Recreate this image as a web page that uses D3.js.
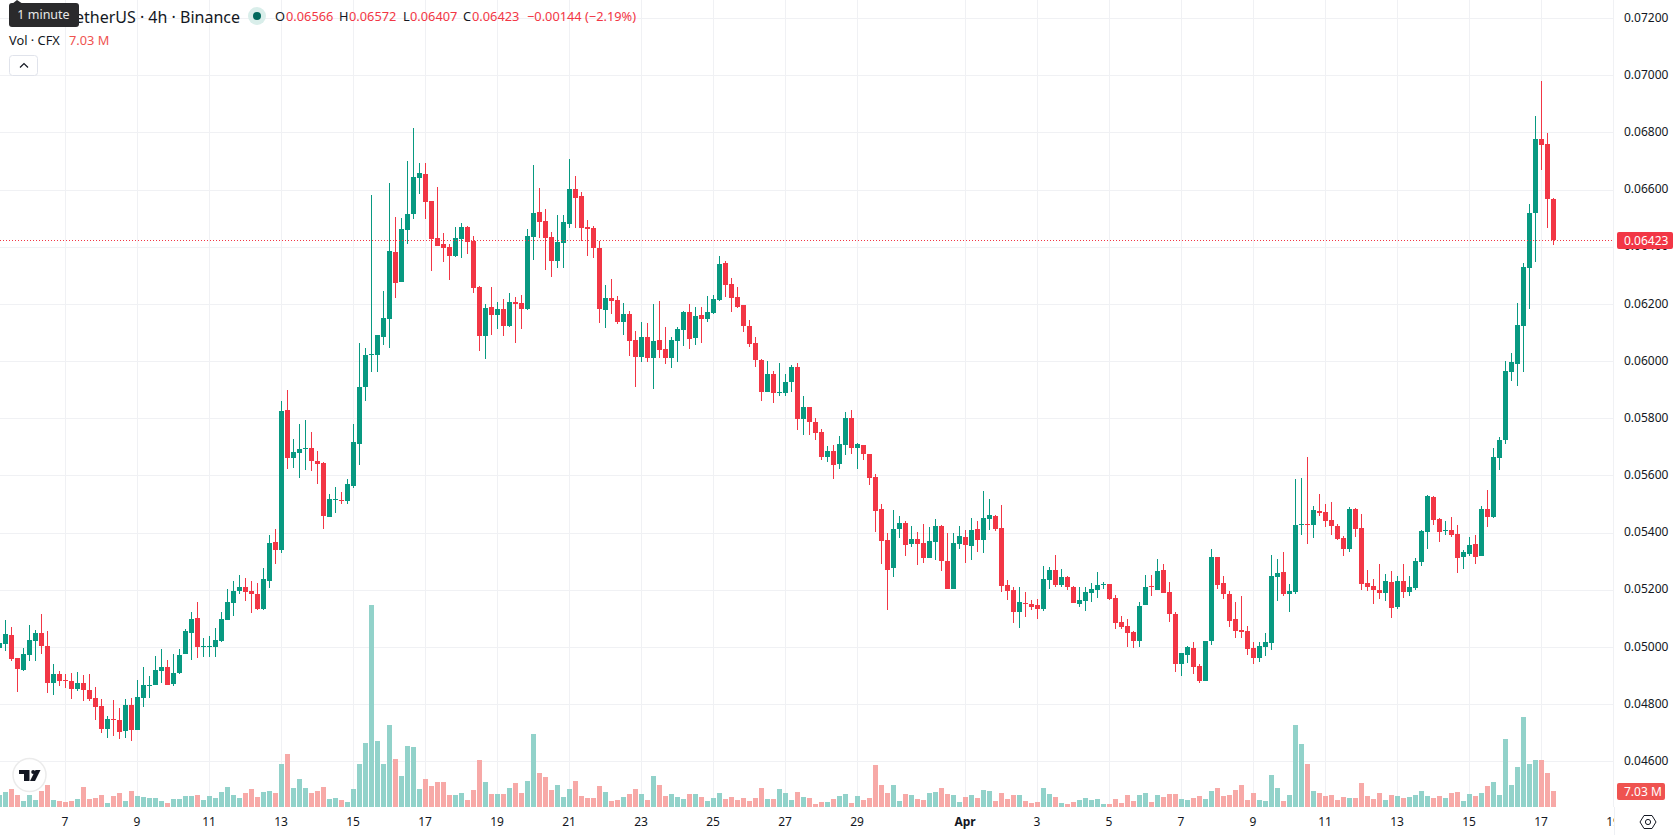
<!DOCTYPE html>
<html>
<head>
<meta charset="utf-8">
<title>CFX / TetherUS 4h</title>
<script src="https://cdn.jsdelivr.net/npm/d3@7/dist/d3.min.js"></script>
<style>
  html, body { margin: 0; padding: 0; background: #fff; overflow: hidden; }
  svg { display: block; font-family: "Noto Sans", sans-serif; }
  .axis path, .axis line { display: none; }
  .axis text { fill: #131722; font-size: 12px; font-family: "Noto Sans", sans-serif; }
</style>
</head>
<body>
<div id="chart"></div>
<script>
// Prices are listed in units of 0.00001 USDT, volumes in millions of CFX.
const priceUnit = 0.00001;

const opens = [4996,5010,5042,4961,4919,4972,5021,5049,5003,4874,
4905,4884,4881,4853,4874,4849,4821,4793,4713,4748,
4744,4706,4797,4709,4821,4863,4867,4916,4930,4870,
4909,4975,5049,5101,5000,5000,5000,5021,5094,5154,
5196,5210,5196,5185,5133,5231,5367,5339,5829,5661,
5678,5692,5696,5650,5643,5454,5514,5514,5510,5563,
5710,5909,6021,6021,6084,6147,6381,6276,6458,6514,
6640,6654,6560,6430,6409,6399,6367,6427,6469,6420,
6259,6087,6189,6161,6182,6122,6206,6203,6182,6434,
6521,6490,6434,6350,6413,6479,6602,6577,6469,6465,
6395,6178,6220,6213,6136,6164,6074,6014,6084,6011,
6074,6042,6011,6070,6109,6172,6081,6161,6147,6168,
6213,6343,6269,6224,6196,6122,6063,6004,5892,5955,
5888,5888,5927,5979,5797,5839,5787,5752,5664,5685,
5640,5706,5801,5696,5706,5675,5594,5482,5374,5276,
5413,5434,5360,5378,5364,5311,5367,5423,5301,5203,
5360,5385,5353,5413,5374,5447,5458,5416,5217,5199,
5122,5154,5150,5147,5133,5234,5269,5217,5245,5210,
5150,5161,5189,5199,5218,5220,5171,5087,5073,5052,
5021,5147,5213,5199,5269,5192,5115,4940,4972,4996,
4933,4881,5021,5315,5224,5185,5098,5059,5056,4996,
4961,5000,5014,5245,5262,5185,5192,5426,5430,5426,
5475,5472,5444,5423,5381,5343,5482,5416,5224,5213,
5199,5189,5227,5140,5231,5192,5206,5297,5402,5524,
5447,5405,5409,5395,5315,5325,5360,5318,5482,5454,
5661,5724,5962,5990,6122,6325,6518,6777,6759,6566];

const highs = [5013,5094,5070,4961,4996,5077,5059,5115,5056,4940,
4916,4905,4909,4912,4902,4905,4860,4818,4758,4814,
4786,4818,4821,4884,4930,4898,4968,4993,4954,4975,
4993,5063,5122,5157,5031,5038,5066,5122,5203,5231,
5252,5241,5231,5224,5276,5392,5412,5860,5899,5727,
5780,5794,5752,5685,5647,5535,5559,5542,5587,5780,
6063,6045,6581,6091,6245,6623,6504,6500,6700,6815,
6693,6693,6560,6609,6448,6409,6469,6483,6472,6437,
6262,6199,6259,6206,6217,6238,6224,6231,6462,6686,
6605,6532,6451,6511,6511,6707,6647,6591,6493,6472,
6420,6266,6287,6227,6203,6175,6105,6136,6133,6199,
6210,6119,6084,6119,6175,6199,6189,6189,6227,6231,
6367,6350,6290,6259,6196,6143,6084,6007,6000,5965,
5993,5955,5986,5993,5878,5839,5801,5762,5703,5706,
5738,5822,5829,5713,5706,5675,5605,5500,5399,5479,
5458,5441,5423,5402,5430,5420,5447,5427,5399,5399,
5423,5409,5451,5441,5545,5517,5462,5496,5234,5210,
5210,5192,5164,5168,5283,5280,5322,5273,5248,5213,
5210,5210,5224,5262,5227,5220,5182,5108,5098,5056,
5157,5252,5252,5308,5290,5227,5122,4979,5003,5017,
4940,5021,5343,5315,5248,5196,5157,5178,5073,5017,
5017,5049,5322,5308,5332,5220,5587,5591,5664,5493,
5535,5500,5507,5430,5388,5489,5486,5465,5269,5238,
5290,5255,5266,5248,5290,5248,5311,5409,5531,5528,
5451,5440,5454,5427,5339,5385,5392,5493,5549,5696,
5734,6000,6028,6203,6343,6549,6857,6979,6798,6572];

const lows = [4996,4986,4951,4842,4916,4951,4951,4975,4839,4832,
4863,4856,4818,4846,4811,4811,4744,4699,4681,4688,
4678,4681,4671,4709,4790,4821,4867,4874,4867,4863,
4905,4975,4954,4961,4965,4965,4965,5017,5094,5108,
5185,5161,5119,5129,5129,5206,5290,5329,5622,5626,
5591,5619,5615,5570,5412,5454,5468,5500,5500,5556,
5636,5860,5962,5962,6056,6045,6220,6276,6409,6497,
6584,6497,6315,6402,6346,6283,6364,6360,6374,6238,
6035,6007,6091,6112,6087,6119,6063,6112,6178,6353,
6430,6318,6294,6325,6325,6465,6465,6420,6367,6360,
6133,6115,6164,6129,6091,6017,5909,5997,5997,5902,
6011,5990,5976,5997,6053,6042,6056,6063,6136,6164,
6210,6224,6172,6185,6102,6049,5979,5860,5892,5853,
5878,5878,5892,5759,5741,5741,5724,5654,5647,5587,
5622,5671,5675,5622,5654,5566,5402,5290,5129,5245,
5381,5318,5350,5287,5294,5311,5304,5266,5203,5203,
5343,5294,5304,5332,5329,5409,5405,5192,5164,5084,
5066,5105,5129,5098,5126,5203,5210,5210,5199,5154,
5140,5126,5157,5171,5203,5164,5063,5063,5000,4996,
5000,5147,5178,5199,5189,5087,4912,4898,4944,4905,
4874,4881,5007,5203,5168,5070,5031,5031,4972,4940,
4947,4968,4989,5161,5178,5122,5185,5391,5360,5381,
5458,5419,5391,5374,5318,5332,5384,5199,5196,5150,
5168,5161,5101,5133,5171,5178,5199,5283,5343,5426,
5367,5392,5385,5259,5273,5318,5290,5318,5420,5451,
5619,5710,5930,5913,5962,6182,6346,6668,6465,6407];

const closes = [5013,5045,4958,4923,4975,5024,5049,5003,4874,4905,
4881,4881,4853,4874,4849,4818,4790,4713,4748,4744,
4702,4797,4709,4825,4867,4867,4919,4930,4867,4909,
4972,5056,5098,5000,5003,5003,5024,5098,5157,5196,
5210,5192,5185,5133,5238,5364,5339,5825,5661,5682,
5692,5696,5650,5640,5458,5517,5517,5510,5570,5717,
5909,6021,6024,6091,6150,6385,6273,6462,6514,6644,
6658,6556,6427,6402,6395,6367,6430,6469,6416,6255,
6087,6185,6161,6182,6122,6206,6199,6182,6437,6518,
6486,6430,6350,6416,6486,6602,6570,6465,6462,6395,
6182,6220,6210,6136,6164,6070,6014,6084,6011,6070,
6039,6011,6074,6112,6172,6077,6158,6147,6172,6217,
6339,6266,6220,6189,6122,6060,6004,5892,5955,5888,
5892,5927,5979,5797,5839,5787,5748,5664,5685,5636,
5710,5801,5696,5710,5675,5591,5475,5371,5269,5413,
5434,5357,5378,5360,5311,5371,5423,5301,5203,5364,
5388,5357,5409,5374,5451,5462,5413,5213,5196,5122,
5157,5150,5140,5133,5238,5269,5217,5245,5210,5154,
5164,5192,5203,5217,5221,5168,5084,5070,5049,5021,
5143,5210,5210,5266,5189,5115,4940,4979,5000,4930,
4881,5021,5315,5217,5185,5091,5056,5052,4993,4961,
5003,5017,5248,5259,5185,5196,5426,5430,5426,5479,
5468,5440,5423,5377,5343,5482,5412,5220,5210,5199,
5189,5231,5136,5231,5192,5210,5300,5405,5528,5444,
5402,5409,5392,5311,5332,5357,5315,5482,5454,5664,
5724,5965,5997,6126,6329,6518,6777,6756,6566,6423];

const volumes = [5.27,6.59,7.91,5.27,2.64,5.27,3.08,7.03,9.67,3.08,
2.64,2.2,2.64,3.52,8.79,3.52,3.95,5.27,1.76,4.83,
6.15,2.64,7.03,4.83,4.39,3.95,3.95,2.64,1.76,3.52,
3.52,4.83,4.83,5.27,3.08,4.83,3.95,6.59,8.79,5.27,
3.95,6.15,7.91,4.39,6.59,7.03,6.15,18.9,23.29,8.35,
12.3,8.35,6.15,7.03,8.79,3.52,3.95,3.08,2.2,7.91,
18.9,28.12,88.8,29.0,18.9,36.03,21.09,13.62,26.8,26.36,
7.91,12.3,9.23,10.99,10.99,5.27,5.27,6.15,3.08,7.47,
20.65,10.99,5.71,5.71,5.71,8.35,10.55,6.15,11.42,32.08,
14.94,13.18,7.47,9.67,4.39,7.91,11.42,4.83,3.95,3.95,
9.23,6.59,2.64,3.08,4.39,5.71,7.91,5.71,3.08,13.62,
9.67,4.83,5.71,4.39,3.52,5.71,5.71,4.39,2.64,3.95,
6.15,3.52,4.39,3.08,3.95,2.64,3.95,8.35,3.52,3.52,
7.91,6.15,3.08,6.59,4.39,3.95,1.32,2.2,2.2,3.52,
4.83,5.71,1.76,4.83,3.08,3.95,18.45,9.67,6.15,9.67,
2.64,5.71,5.27,3.52,3.08,6.15,6.59,8.35,5.71,5.27,
2.2,4.39,5.27,3.95,7.47,7.03,2.64,6.15,3.52,5.27,
5.27,2.64,1.76,2.2,8.35,5.71,4.39,1.76,1.32,2.2,
3.08,3.95,3.08,3.52,1.32,1.32,3.52,1.76,5.27,2.64,
5.27,6.15,2.2,5.27,4.39,5.71,5.71,3.52,3.08,3.95,
4.83,3.52,7.03,8.35,4.83,5.27,7.47,9.67,3.08,6.15,
3.08,2.64,14.06,8.35,2.64,5.27,36.03,27.68,18.9,7.03,
6.15,4.83,5.27,3.08,4.39,3.95,3.95,10.55,4.83,3.52,
6.15,3.08,5.27,4.83,3.95,4.39,5.27,7.03,4.83,3.95,
4.83,3.95,6.15,6.59,2.64,5.71,4.83,6.15,9.23,10.99,
5.27,29.88,9.67,17.58,39.55,18.9,20.65,20.65,14.94,7.03];

const priceTicks = [0.046,0.048,0.05,0.052,0.054,0.056,0.058,0.06,0.062,0.064,0.066,0.068,0.07,0.072];
const dayLabels = ["7","9","11","13","15","17","19","21","23","25","27","29","Apr","3","5","7","9","11","13","15","17","19"];
const dayCandles = [11,23,35,47,59,71,83,95,107,119,131,143,161,173,185,197,209,221,233,245,257,269];

const lastQuote = {open: 0.06566, high: 0.06572, low: 0.06407, close: 0.06423, change: "−0.00144 (−2.19%)", volume: "7.03 M"};

const W = 1678, H = 835;
const paneRight = 1614, paneBottom = 807;
const UP = "#089981", DOWN = "#F23645";
const UP_VOL = "#92d2ca", DOWN_VOL = "#f7a9a7";
const GRID = "#f0f1f4", INK = "#131722";

const candles = opens.map((o, i) => ({
  i, open: o * priceUnit, high: highs[i] * priceUnit, low: lows[i] * priceUnit,
  close: closes[i] * priceUnit, volume: volumes[i], up: closes[i] >= o
}));

const x = d3.scaleLinear().domain([0, 259]).range([-0.5, 1553.5]);
const y = d3.scaleLinear().domain([0.046, 0.068]).range([761.4, 132.4]);
const yVol = d3.scaleLinear().domain([0, d3.max(volumes)]).range([paneBottom, 605]);

const svg = d3.select("#chart").append("svg").attr("width", W).attr("height", H);

const defs = svg.append("defs");
defs.append("clipPath").attr("id", "pane").append("rect").attr("width", paneRight).attr("height", paneBottom);
defs.append("clipPath").attr("id", "time").append("rect").attr("y", paneBottom).attr("width", paneRight + 1).attr("height", H - paneBottom);

const crisp = svg.append("g").attr("shape-rendering", "crispEdges");

// Grid
const grid = crisp.append("g");
grid.selectAll(".gy").data(priceTicks).join("line")
  .attr("x1", 0).attr("x2", paneRight)
  .attr("y1", d => Math.round(y(d)) + 0.5).attr("y2", d => Math.round(y(d)) + 0.5)
  .attr("stroke", GRID);
grid.selectAll(".gx").data(dayCandles).join("line")
  .attr("x1", d => x(d)).attr("x2", d => x(d))
  .attr("y1", 0).attr("y2", paneBottom)
  .attr("stroke", GRID);

const pane = crisp.append("g").attr("clip-path", "url(#pane)");

// Volume histogram
pane.append("g").selectAll("rect").data(candles).join("rect")
  .attr("x", d => x(d.i) - 2.5).attr("width", 5)
  .attr("y", d => Math.round(yVol(d.volume)))
  .attr("height", d => paneBottom - Math.round(yVol(d.volume)))
  .attr("fill", d => d.up ? UP_VOL : DOWN_VOL);

// Wicks
pane.append("g").selectAll("rect").data(candles).join("rect")
  .attr("x", d => x(d.i) - 0.5).attr("width", 1)
  .attr("y", d => Math.round(y(d.high)))
  .attr("height", d => Math.max(1, Math.round(y(d.low)) - Math.round(y(d.high))))
  .attr("fill", d => d.up ? UP : DOWN);

// Candle bodies
pane.append("g").selectAll("rect").data(candles).join("rect")
  .attr("x", d => x(d.i) - 2.5).attr("width", 5)
  .attr("y", d => Math.round(y(Math.max(d.open, d.close))))
  .attr("height", d => Math.max(1, Math.round(y(Math.min(d.open, d.close))) - Math.round(y(Math.max(d.open, d.close)))))
  .attr("fill", d => d.up ? UP : DOWN);

// Last price line
svg.append("line")
  .attr("x1", 0).attr("x2", paneRight)
  .attr("y1", Math.round(y(lastQuote.close)) + 0.5).attr("y2", Math.round(y(lastQuote.close)) + 0.5)
  .attr("stroke", DOWN).attr("stroke-dasharray", "1,2");

// Price axis
svg.append("g").attr("class", "axis").attr("transform", `translate(${paneRight + 10},-0.7)`)
  .call(d3.axisRight(y).tickValues(priceTicks).tickSize(0).tickPadding(0).tickFormat(d3.format(".5f")));

// Time axis
const timeAxis = svg.append("g").attr("clip-path", "url(#time)").append("g")
  .attr("class", "axis").attr("transform", `translate(-1,${paneBottom + 10})`)
  .call(d3.axisBottom(x).tickValues(dayCandles).tickSize(0).tickPadding(0)
    .tickFormat((d, i) => dayLabels[i]));
timeAxis.selectAll("text").attr("font-weight", (d, i) => dayLabels[i] === "Apr" ? 700 : 400);

// Last price and volume tags
const tag = (y0, x0, w, h, fill, label) => {
  svg.append("rect").attr("x", x0).attr("y", y0).attr("width", w).attr("height", h).attr("rx", 2).attr("fill", fill);
  svg.append("text").attr("x", x0 + 7).attr("y", y0 + h / 2).attr("dy", "0.35em")
    .attr("fill", "#fff").attr("font-size", 12).text(label);
};
tag(Math.round(y(lastQuote.close)) - 8, 1617, 56, 17, DOWN, d3.format(".5f")(lastQuote.close));
tag(Math.round(yVol(volumes[259])) - 8, 1617, 48, 17, "#ef5350", lastQuote.volume);

// Separator under the scales and settings icon
svg.append("line").attr("x1", paneRight + 0.5).attr("x2", paneRight + 0.5).attr("y1", paneBottom).attr("y2", H)
  .attr("stroke", "#eef0f4");
const gear = svg.append("g").attr("transform", "translate(1648,822)").attr("fill", "none").attr("stroke", INK);
gear.append("path").attr("d", "M-8,0L-4,-6.5L4,-6.5L8,0L4,6.5L-4,6.5Z").attr("stroke-linejoin", "round");
gear.append("circle").attr("r", 2.6);

// Watermark badge
const badge = svg.append("g").attr("transform", "translate(29.5,775)");
badge.append("circle").attr("r", 16.5).attr("fill", "#fff").attr("stroke", "#ebebeb").attr("stroke-width", 1.5);
badge.append("path").attr("fill", "#131722").attr("d", "M-10.5,-5H0V6H-5.5V-1H-10.5Z");
badge.append("circle").attr("cx", 3.7).attr("cy", -3).attr("r", 2).attr("fill", "#131722");
badge.append("path").attr("fill", "#131722").attr("d", "M5.5,6H0.5L6,-5H11Z");

// Legend
const legend = svg.append("g").attr("font-size", 12.8).attr("fill", INK);
const put = (px, py, str, col) => legend.append("text").attr("x", px).attr("y", py).attr("dy", "0.35em")
  .attr("fill", col || INK).text(str);

legend.append("text").attr("x", 240).attr("y", 17).attr("dy", "0.35em").attr("text-anchor", "end")
  .attr("font-size", 16).attr("fill", INK).text("TetherUS · 4h · Binance");
legend.append("circle").attr("cx", 257).attr("cy", 16).attr("r", 9).attr("fill", "#d9eeea");
legend.append("circle").attr("cx", 257).attr("cy", 16).attr("r", 4).attr("fill", "#00695c");

const fmt = d3.format(".5f");
put(275, 17, "O"); put(286, 17, fmt(lastQuote.open), DOWN);
put(339, 17, "H"); put(349, 17, fmt(lastQuote.high), DOWN);
put(403, 17, "L"); put(410, 17, fmt(lastQuote.low), DOWN);
put(463, 17, "C"); put(472, 17, fmt(lastQuote.close), DOWN);
put(527, 17, lastQuote.change, DOWN);
put(9, 41, "Vol · CFX");
put(69, 41, lastQuote.volume, "#ef5350");

// Collapse button
svg.append("rect").attr("x", 9.5).attr("y", 55.5).attr("width", 28).attr("height", 20).attr("rx", 3)
  .attr("fill", "#fff").attr("stroke", "#e0e3eb");
svg.append("path").attr("d", "M20,67.5L24,63.5L28,67.5").attr("fill", "none").attr("stroke", INK).attr("stroke-width", 1.2);

// Tooltip over the legend
const tip = svg.append("g");
tip.append("path").attr("d", "M12,4L17,0L23,4Z").attr("fill", "#2a2a2c");
tip.append("rect").attr("x", 9).attr("y", 3).attr("width", 70).attr("height", 24).attr("rx", 3).attr("fill", "#2a2a2c");
tip.append("text").attr("x", 43.5).attr("y", 15).attr("dy", "0.35em").attr("text-anchor", "middle")
  .attr("fill", "#e8e8e8").attr("font-size", 12.5).text("1 minute");
</script>
</body>
</html>
